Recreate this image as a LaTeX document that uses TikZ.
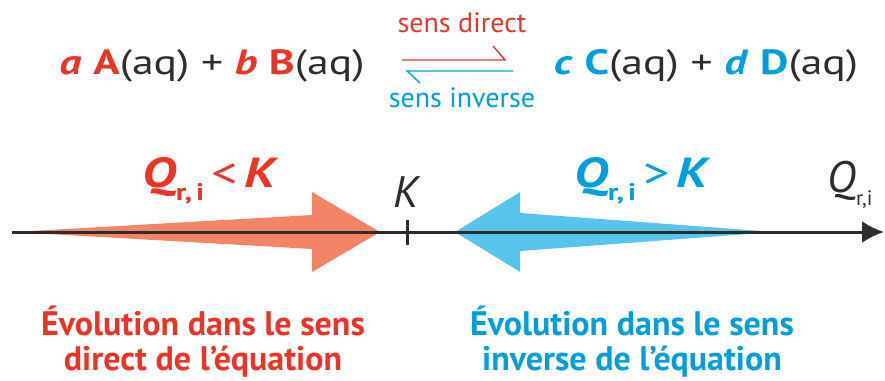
\documentclass[tikz,border=0pt]{standalone}
\usepackage{fontspec}
\setmainfont{PT Sans}
\newfontfamily\widefont[FakeStretch=1.25]{PT Sans}
\usepackage{tikz}
\usetikzlibrary{arrows.meta, positioning, calc}
\definecolor{eqred}{RGB}{236, 52, 38}
\definecolor{eqblue}{RGB}{0, 158, 218}
\definecolor{arrowred}{RGB}{244, 132, 104}
\definecolor{arrowblue}{RGB}{88, 196, 236}
\definecolor{inkgray}{RGB}{45, 45, 45}
\newcommand{\qsub}[3]{\raisebox{-#1}{\fontsize{#2}{#2}\selectfont #3}}

\begin{document}
\begin{tikzpicture}[x=1pt, y=-1pt,
    eqtext/.style={anchor=base, inner sep=0pt, text=inkgray, font=\widefont\fontsize{35}{38}\selectfont},
    senslabel/.style={anchor=base, inner sep=0pt, font=\fontsize{28}{30}\selectfont},
    qlabel/.style={anchor=base, inner sep=0pt, font=\widefont\fontsize{42}{46}\selectfont\bfseries\itshape},
    axlabel/.style={anchor=base, inner sep=0pt, text=inkgray, font=\fontsize{44}{48}\selectfont\itshape},
    evolabel/.style={anchor=base, inner sep=0pt, font=\fontsize{34}{38}\selectfont\bfseries},
    axis/.style={line width=3pt, draw=inkgray, -{Latex[length=22pt, width=22pt]}}
]
\useasboundingbox (0,0) rectangle (885,380);

% equation
\node[eqtext] (reactifs) at (212,74) {\textcolor{eqred}{\textbf{\textit{a}} \textbf{A}}(aq) + \textcolor{eqred}{\textbf{\textit{b}} \textbf{B}}(aq)};
\node[eqtext] (produits) at (706,74) {\textcolor{eqblue}{\textbf{\textit{c}} \textbf{C}}(aq) + \textcolor{eqblue}{\textbf{\textit{d}} \textbf{D}}(aq)};

% double harpoon
\coordinate (hdL) at (402,60);
\coordinate (hdR) at (505,60);
\coordinate (hiL) at (407,71);
\coordinate (hiR) at (513,71);
\draw[eqred, line width=1.4pt] (hdL) -- (hdR) -- ++(-12,-14);
\draw[eqblue, line width=1.4pt] (hiR) -- (hiL) -- ++(13,12);
\node[senslabel, text=eqred] (direct) at (462,32) {sens direct};
\node[senslabel, text=eqblue] (inverse) at (462,107) {sens inverse};

% big arrows
\fill[arrowred] (13,232) -- (312,215) -- (312,192) -- (380,232) -- (312,272) -- (312,249) -- cycle;
\fill[arrowblue] (775,232) -- (520,213) -- (520,192) -- (455,232) -- (520,272) -- (520,251) -- cycle;

% axis
\coordinate (axL) at (12,232);
\coordinate (axR) at (884,232);
\coordinate (kpos) at (407,232);
\draw[axis] (axL) -- (axR);
\draw[line width=3pt, inkgray] ($(kpos)+(0,-12)$) -- ($(kpos)+(0,13)$);
\node[axlabel] (klabel) at (406,207) {K};
\node[axlabel] (qaxis) at (850,192) {Q\qsub{0.3em}{21}{\upshape r,i}};

% conditions
\node[qlabel, text=eqred] (qinf) at (209,187) {Q\qsub{0.33em}{24}{\upshape r,\,i}\,{\upshape\mdseries <}\,K};
\node[qlabel, text=eqblue] (qsup) at (641,187) {Q\qsub{0.33em}{24}{\upshape r,\,i}\,{\upshape\mdseries >}\,K};

% evolution
\node[evolabel, text=eqred] (evodirA) at (203,335) {Évolution dans le sens};
\node[evolabel, text=eqred] (evodirB) at (203,370) {direct de l’équation};
\node[evolabel, text=eqblue] (evoinvA) at (632,335) {Évolution dans le sens};
\node[evolabel, text=eqblue] (evoinvB) at (632,370) {inverse de l’équation};
\end{tikzpicture}
\end{document}
